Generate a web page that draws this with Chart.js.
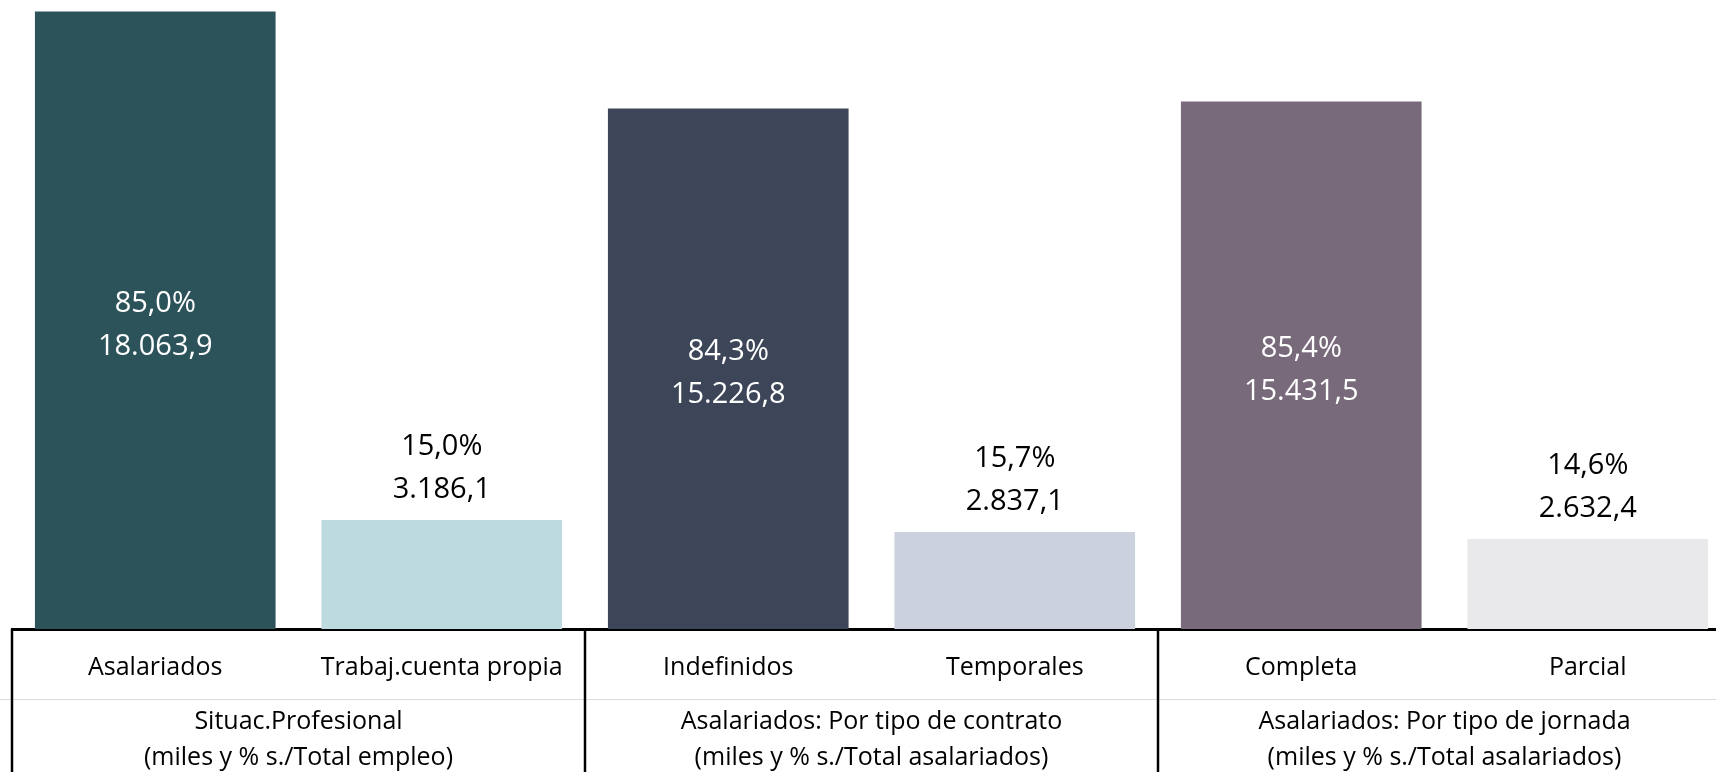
<!DOCTYPE html>
<html>
<head>
<meta charset="utf-8">
<script src="https://cdn.jsdelivr.net/npm/chart.js@4/dist/chart.umd.min.js"></script>
<style>
  html, body { margin: 0; padding: 0; background: #fff; overflow: hidden; }
  #wrap { width: 1740px; height: 772px; }
</style>
</head>
<body>
<div id="wrap"><canvas id="empleo" width="1740" height="772"></canvas></div>
<script>
// datos (miles y % s./total)
const categorias = ["Asalariados", "Trabaj.cuenta propia", "Indefinidos", "Temporales", "Completa", "Parcial"];
const valores = [18063.9, 3186.1, 15226.8, 2837.1, 15431.5, 2632.4];
const porcentajes = ["85,0%", "15,0%", "84,3%", "15,7%", "85,4%", "14,6%"];
const valoresTexto = ["18.063,9", "3.186,1", "15.226,8", "2.837,1", "15.431,5", "2.632,4"];
const grupos = [
  ["Situac.Profesional", "(miles y % s./Total empleo)"],
  ["Asalariados: Por tipo de contrato", "(miles y % s./Total asalariados)"],
  ["Asalariados: Por tipo de jornada", "(miles y % s./Total asalariados)"]
];
const colores = ["#2c535a", "#bddbdf", "#3c4658", "#cbd2dd", "#786a7b", "#e9e8eb"];

const FONT = "'Open Sans', 'Noto Sans', sans-serif";

// etiquetas de valor dentro / encima de las barras
const etiquetasBarras = {
  id: "etiquetasBarras",
  afterDatasetsDraw(chart) {
    const ctx = chart.ctx;
    const meta = chart.getDatasetMeta(0);
    ctx.save();
    ctx.font = "29px " + FONT;
    ctx.textAlign = "center";
    ctx.textBaseline = "middle";
    meta.data.forEach((bar, i) => {
      let y1, y2;
      if (valores[i] > 10000) {
        const mid = (bar.y + bar.base) / 2;
        y1 = mid - 17;
        y2 = mid + 26;
        ctx.fillStyle = "#ffffff";
      } else {
        y1 = bar.y - 73;
        y2 = bar.y - 30;
        ctx.fillStyle = "#000000";
      }
      ctx.fillText(porcentajes[i], bar.x, y1);
      ctx.fillText(valoresTexto[i], bar.x, y2);
    });
    ctx.restore();
  }
};

// cuadro de grupos bajo el eje
const cuadroGrupos = {
  id: "cuadroGrupos",
  afterDraw(chart) {
    const ctx = chart.ctx;
    const area = chart.chartArea;
    const xs = chart.scales.x;
    const bottom = chart.height;
    const cortes = [area.left];
    for (let g = 1; g < grupos.length; g++) {
      cortes.push((xs.getPixelForValue(g * 2 - 1) + xs.getPixelForValue(g * 2)) / 2);
    }
    cortes.push(area.right);

    ctx.save();
    // linea gris fina entre filas
    ctx.strokeStyle = "#dcdcdc";
    ctx.lineWidth = 1;
    ctx.beginPath();
    ctx.moveTo(0, area.bottom + 70.5);
    ctx.lineTo(chart.width, area.bottom + 70.5);
    ctx.stroke();

    ctx.strokeStyle = "#000";
    ctx.lineWidth = 2.5;
    cortes.forEach(x => {
      ctx.beginPath();
      ctx.moveTo(x, area.bottom);
      ctx.lineTo(x, bottom);
      ctx.stroke();
    });

    ctx.fillStyle = "#000";
    ctx.font = "25px " + FONT;
    ctx.textAlign = "center";
    ctx.textBaseline = "middle";
    grupos.forEach((lineas, g) => {
      const cx = (cortes[g] + cortes[g + 1]) / 2;
      ctx.fillText(lineas[0], cx, area.bottom + 93);
      ctx.fillText(lineas[1], cx, area.bottom + 129);
    });
    ctx.restore();
  }
};

new Chart(document.getElementById("empleo").getContext("2d"), {
  type: "bar",
  data: {
    labels: categorias,
    datasets: [{
      data: valores,
      backgroundColor: colores,
      borderWidth: 0,
      categoryPercentage: 1,
      barPercentage: 0.84
    }]
  },
  options: {
    responsive: false,
    animation: false,
    layout: { padding: { left: 12, right: 9, top: 0, bottom: 0 } },
    plugins: {
      legend: { display: false },
      tooltip: { enabled: false }
    },
    scales: {
      x: {
        grid: { display: false },
        border: { display: true, color: "#000", width: 3 },
        ticks: {
          color: "#000",
          font: { family: FONT, size: 25 },
          padding: 16,
          maxRotation: 0,
          autoSkip: false
        },
        afterFit(scale) { scale.height = 143; }
      },
      y: {
        display: false,
        min: 0,
        max: 18400
      }
    }
  },
  plugins: [etiquetasBarras, cuadroGrupos]
});
</script>
</body>
</html>
